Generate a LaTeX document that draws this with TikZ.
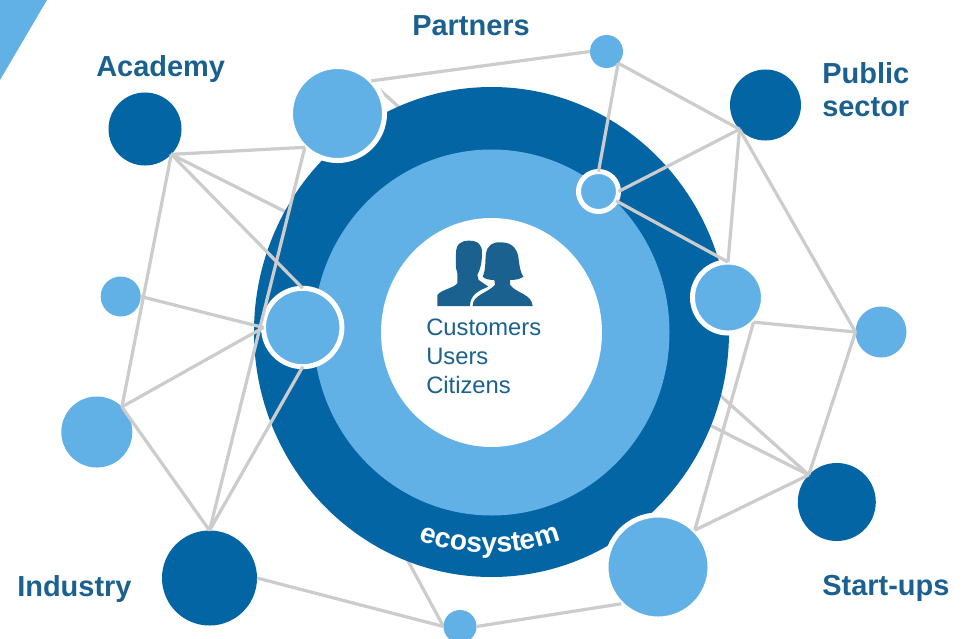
\documentclass[tikz,border=0pt]{standalone}
\usepackage{fontspec}
\setmainfont{Liberation Sans}
\usepackage{tikz}
\usetikzlibrary{backgrounds,decorations.text}
\definecolor{darkblue}{HTML}{0365A4}
\definecolor{lightblue}{HTML}{62B1E6}
\definecolor{inkblue}{HTML}{1B6190}
\definecolor{linegray}{HTML}{CCCCCC}
\newcommand{\ecofont}{\fontsize{20pt}{22pt}\selectfont\bfseries}
\tikzset{
    darkdot/.style={circle, fill=darkblue, inner sep=0pt, outer sep=0pt, minimum size=#1*0.05cm},
    lightdot/.style={circle, fill=lightblue, inner sep=0pt, outer sep=0pt, minimum size=#1*0.05cm},
    ringdot/.style={lightdot=#1, draw=white, line width=3.55pt},
    link/.style={linegray, line width=2.3pt},
    group/.style={inkblue, font=\fontsize{20.6pt}{22.8pt}\selectfont\bfseries, inner sep=0pt, align=left}
}

\begin{document}
\begin{tikzpicture}[x=0.025cm, y=-0.025cm]
    \useasboundingbox (0,0) rectangle (969,639);

    % Corner wedge
    \fill[lightblue] (0,0) -- (47,0) -- (0,80) -- cycle;

    % Outer dots
    \node[darkdot=36.5] (academy) at (145,129) {};
    \node[darkdot=35.5] (public) at (765.5,105) {};
    \node[darkdot=47.5] (industry) at (209.5,578) {};
    \node[darkdot=39] (startup) at (836.8,502) {};
    \node[lightdot=16.5] (topdot) at (606.5,51.5) {};
    \node[lightdot=20] (leftdot) at (120.7,296.5) {};
    \node[lightdot=35.5] (lowdot) at (96.8,432) {};
    \node[lightdot=16.5] (basedot) at (460,626.5) {};
    \node[lightdot=25.5] (sidedot) at (881,332) {};

    % Dots with a white ring
    \node[ringdot=47] (partner) at (337.5,113.5) {};
    \node[ringdot=20] (smallring) at (598.5,191.5) {};
    \node[ringdot=35.5] (rightring) at (728,297.5) {};
    \node[ringdot=39.2] (leftring) at (302.7,327.5) {};
    \node[ringdot=52] (basering) at (658,567) {};

    \begin{pgfonlayer}{background}
        % Links that run under the rings
        \draw[link] (academy.-44) -- (startup.136);
        \draw[link] (partner.35) -- (startup.136);
        \draw[link] (leftring.-90) -- (basedot.180);

        % Rings
        \fill[darkblue] (491.5,332) ellipse (237.5 and 245);
        \fill[lightblue] (491.5,332.5) ellipse (178 and 183);
        \fill[white] (491.5,332.5) ellipse (110.5 and 114.5);
    \end{pgfonlayer}

    % Links on the left
    \draw[link] (academy.-44) -- (partner.226);
    \draw[link] (academy.-44) -- (leftring.90);
    \draw[link] (academy.-44) -- (lowdot.45);
    \draw[link] (partner.226) -- (industry.90);
    \draw[link] (leftdot.0) -- (leftring.180);
    \draw[link] (lowdot.45) -- (leftring.180);
    \draw[link] (lowdot.45) -- (industry.90);
    \draw[link] (leftring.-90) -- (industry.90);

    % Links along the bottom
    \draw[link] (industry.0) -- (basedot.180);
    \draw[link] (basedot.0) -- (basering.225);

    % Links on the top and the right
    \draw[link] (partner.44) -- (topdot.180);
    \draw[link] (topdot.-45) -- (smallring.90);
    \draw[link] (topdot.-45) -- (public.223);
    \draw[link] (public.223) -- (smallring.0);
    \draw[link] (smallring.-28) -- (rightring.90);
    \draw[link] (public.223) -- (rightring.90);
    \draw[link] (public.223) -- (sidedot.180);
    \draw[link] (rightring.-44) -- (sidedot.180);
    \draw[link] (sidedot.180) -- (startup.136);
    \draw[link] (rightring.-44) -- (basering.45);
    \draw[link] (basering.45) -- (startup.136);

    % Two people
    \begin{scope}[shift={(400,220)}, x=0.00833cm, y=-0.00833cm]
        \fill[inkblue] (112,258) -- (112,225) .. controls (125,208) and (160,205) .. (172,190)
            -- (172,160) .. controls (165,140) and (168,120) .. (168,100)
            .. controls (168,70) and (185,62) .. (207,62) .. controls (235,62) and (247,75) .. (246,100)
            .. controls (246,130) and (240,150) .. (232,165) -- (236,180) -- (265,200)
            .. controls (235,212) and (210,225) .. (210,258) -- cycle;
        \fill[inkblue] (218,258) .. controls (218,225) and (260,220) .. (285,195) -- (283,180)
            .. controls (270,180) and (255,178) .. (248,170) .. controls (258,150) and (255,120) .. (258,100)
            .. controls (262,75) and (280,65) .. (303,67) .. controls (335,67) and (350,85) .. (355,110)
            .. controls (358,135) and (360,155) .. (370,170) .. controls (360,178) and (345,180) .. (330,180)
            -- (330,195) .. controls (350,220) and (395,222) .. (398,258) -- cycle;
    \end{scope}

    % Labels
    \node[inkblue, anchor=west, inner sep=0pt, align=left, font=\fontsize{16.9pt}{20.6pt}\selectfont] (people) at (426,356) {Customers\\Users\\Citizens};
    \node[group, anchor=base west] (academylabel) at (96,76) {Academy};
    \node[group, anchor=base west] (partnerlabel) at (412,35) {Partners};
    \node[group, anchor=base west] (publiclabel) at (822,116) {Public\\sector};
    \node[group, anchor=base west] (industrylabel) at (17,596) {Industry};
    \node[group, anchor=base west] (startuplabel) at (822,595) {Start-ups};

    % Text on the ring
    \path[decorate, decoration={text along path, text={|\ecofont\color{white}|ecosystem}, text align=center}]
        (373,516) arc[start angle=125, end angle=55, radius=204];
\end{tikzpicture}
\end{document}
